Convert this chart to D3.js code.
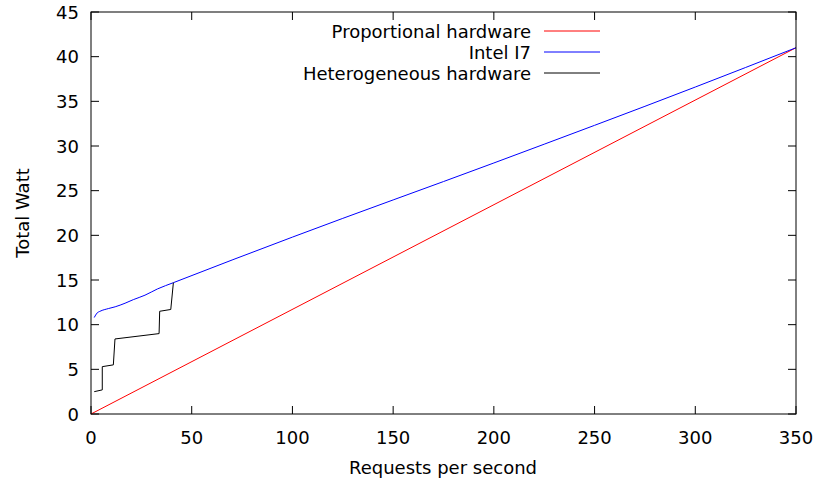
<!DOCTYPE html>
<html><head><meta charset="utf-8">
<script src="https://cdn.jsdelivr.net/npm/d3@7"></script>
<style>body{margin:0;background:#fff;} text{font-family:"DejaVu Sans",sans-serif;}</style>
</head><body>
<svg id="c" width="817" height="480"></svg>
<script>
const xTicks = [0,50,100,150,200,250,300,350];
const yTicks = [0,5,10,15,20,25,30,35,40,45];
const proportional = [[0,0],[350,41]];
const intelI7 = [[1.6,10.8],[3,11.3],[4.5,11.5],[8.6,11.8],[12,12.0],[16.9,12.4],[21,12.8],[26.8,13.3],[33,14.0],[40.9,14.7],[100,19.8],[200,28.1],[300,36.6],[350,41]];
const heterogeneous = [[1.6,2.5],[5.6,2.7],[5.6,5.3],[11.1,5.5],[11.9,8.4],[33.8,9.0],[34.1,11.5],[39.6,11.7],[40.9,14.7]];
const seriesNames = ["Proportional hardware","Intel I7","Heterogeneous hardware"];
const seriesColors = ["#ff0000","#0000ff","#000000"];

const svg = d3.select("#c");
const L=91,R=796,T=12,B=414;
const x = d3.scaleLinear().domain([0,350]).range([L,R]);
const y = d3.scaleLinear().domain([0,45]).range([B,T]);
const tk = 8, fs = 18;
const g = svg.append("g");
xTicks.forEach(v=>{
  g.append("line").attr("x1",x(v)).attr("x2",x(v)).attr("y1",B).attr("y2",B-tk).attr("stroke","#000");
  g.append("line").attr("x1",x(v)).attr("x2",x(v)).attr("y1",T).attr("y2",T+tk).attr("stroke","#000");
  g.append("text").attr("x",x(v)).attr("y",B+30).attr("text-anchor","middle").attr("font-size",fs).text(v);
});
yTicks.forEach(v=>{
  g.append("line").attr("x1",L).attr("x2",L+tk).attr("y1",y(v)).attr("y2",y(v)).attr("stroke","#000");
  g.append("line").attr("x1",R).attr("x2",R-tk).attr("y1",y(v)).attr("y2",y(v)).attr("stroke","#000");
  g.append("text").attr("x",L-12).attr("y",y(v)+6.5).attr("text-anchor","end").attr("font-size",fs).text(v);
});
const line = d3.line().x(d=>x(d[0])).y(d=>y(d[1]));
g.append("path").attr("d",line(proportional)).attr("fill","none").attr("stroke",seriesColors[0]);
g.append("path").attr("d",d3.line().x(d=>x(d[0])).y(d=>y(d[1])).curve(d3.curveMonotoneX)(intelI7)).attr("fill","none").attr("stroke",seriesColors[1]);
g.append("path").attr("d",line(heterogeneous)).attr("fill","none").attr("stroke",seriesColors[2]);
g.append("rect").attr("x",L).attr("y",T).attr("width",R-L).attr("height",B-T).attr("fill","none").attr("stroke","#000");
seriesNames.forEach((n,i)=>{
  const yy = 31+i*21;
  g.append("text").attr("x",531).attr("y",yy+6.5).attr("text-anchor","end").attr("font-size",fs).text(n);
  g.append("line").attr("x1",544).attr("x2",600).attr("y1",yy).attr("y2",yy).attr("stroke",seriesColors[i]);
});
g.append("text").attr("x",443).attr("y",474).attr("text-anchor","middle").attr("font-size",fs).text("Requests per second");
g.append("text").attr("transform","translate(29,213) rotate(-90)").attr("text-anchor","middle").attr("font-size",fs).text("Total Watt");
</script>
</body></html>
